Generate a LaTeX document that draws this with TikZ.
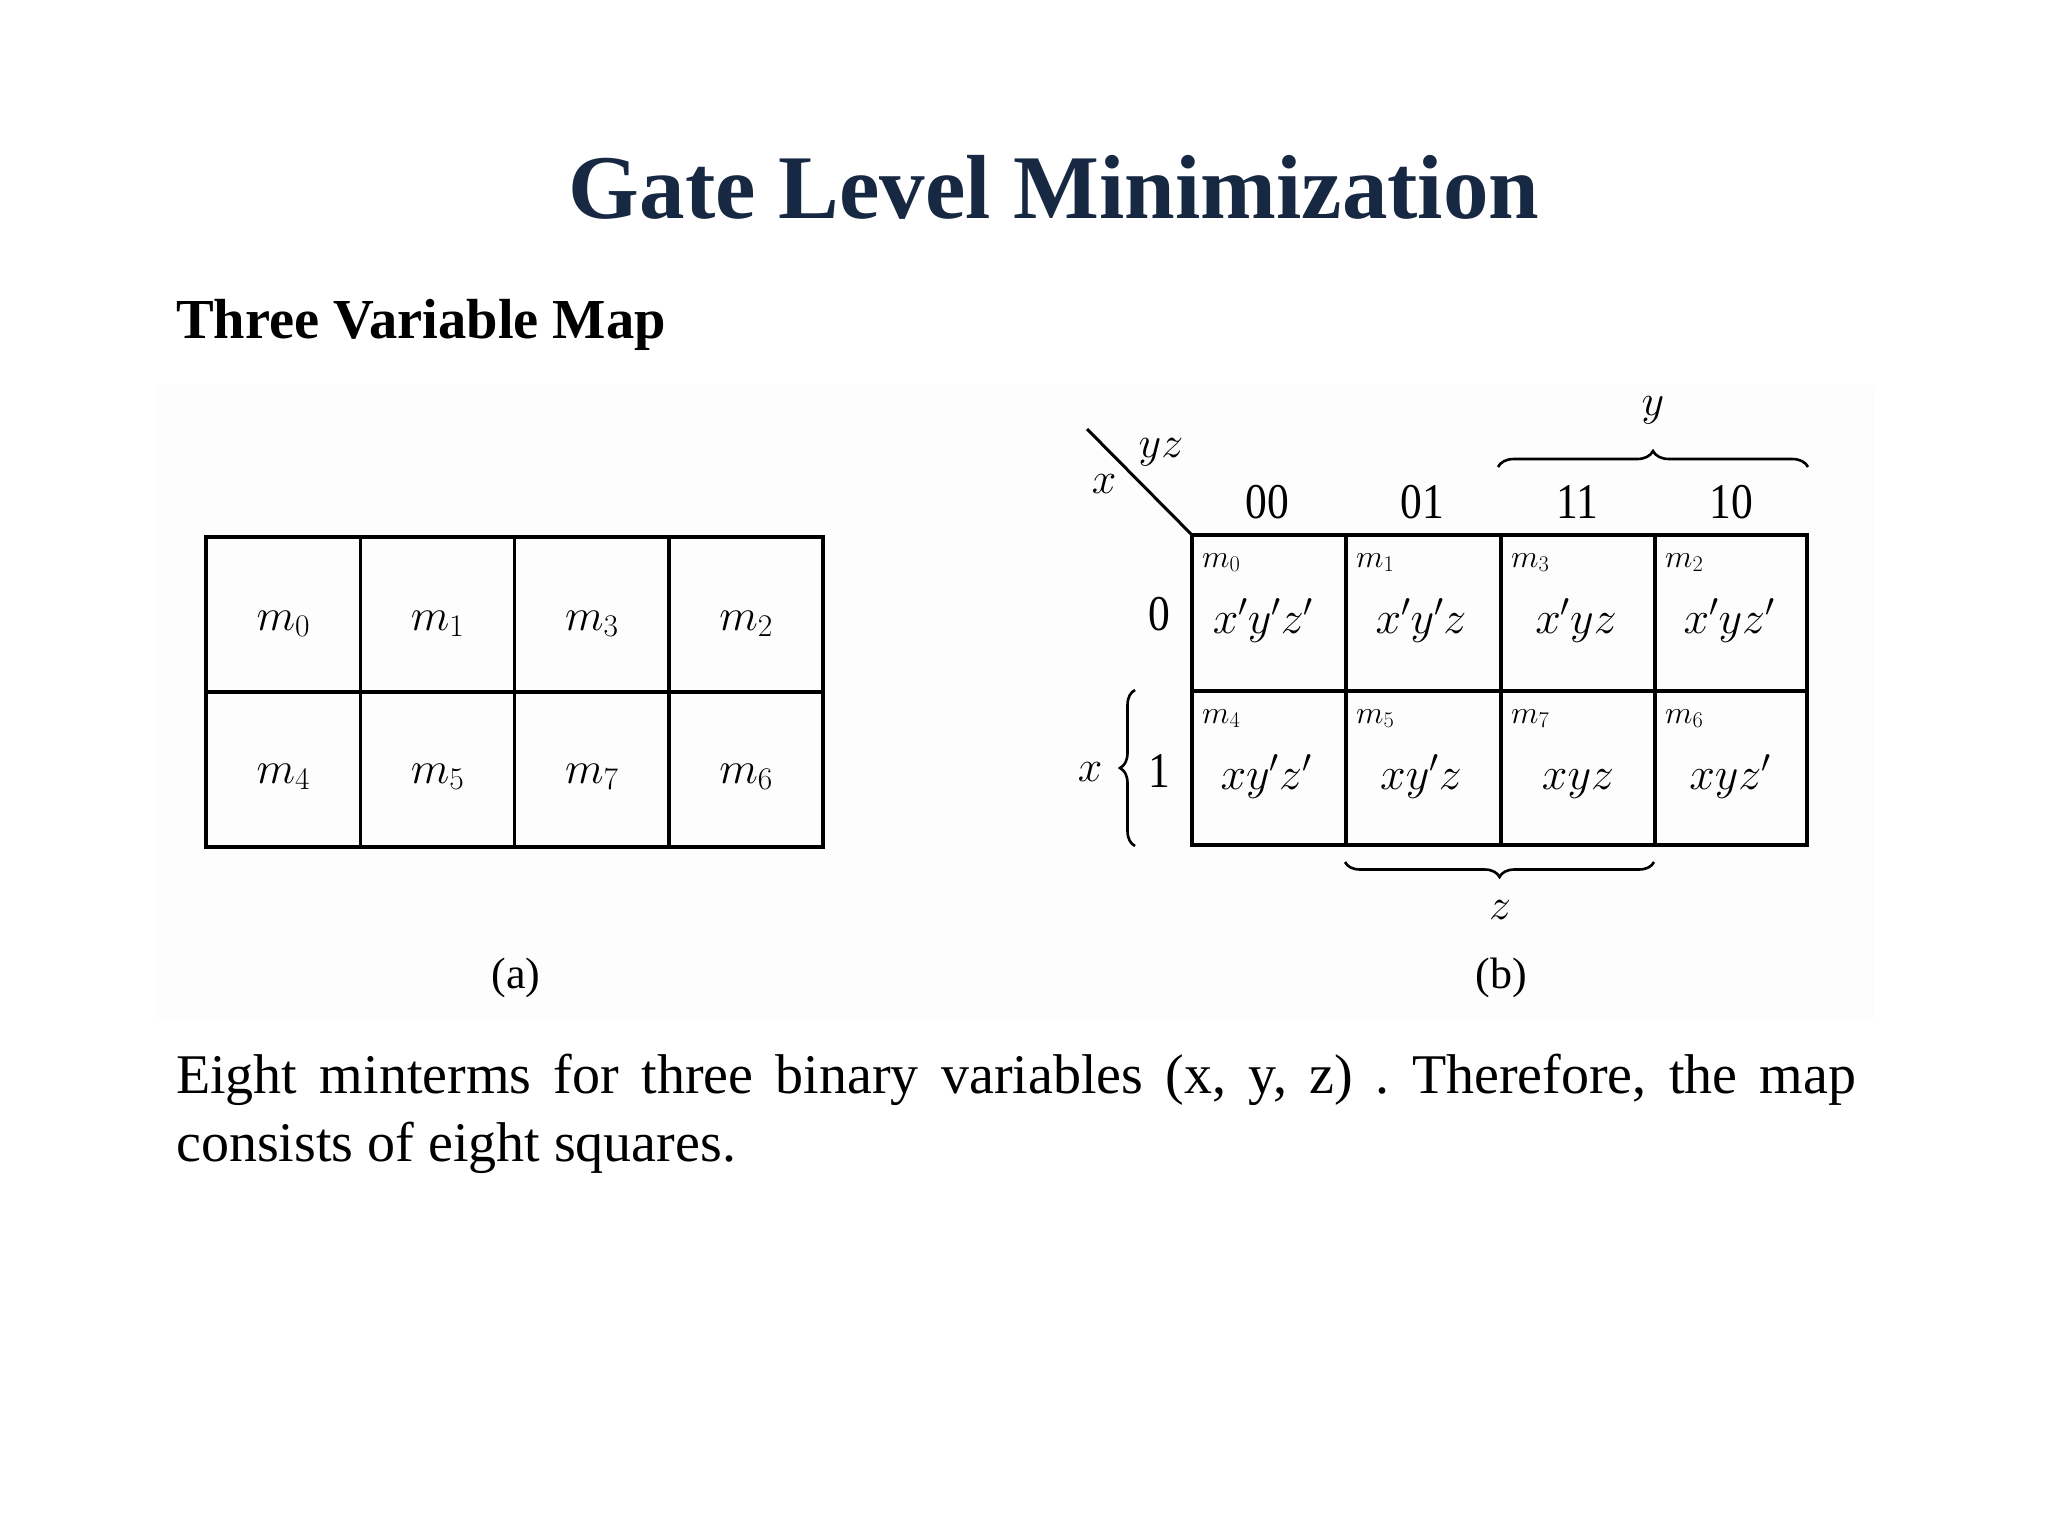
\RequirePackage{fix-cm}
\documentclass[tikz,border=0pt]{standalone}
\usepackage{fontspec}
\setmainfont{Liberation Serif}
\usetikzlibrary{decorations.pathreplacing}
\newcommand\fsz[1]{\fontsize{#1}{#1}\selectfont}
\definecolor{titlenavy}{RGB}{23,40,66}
\frenchspacing
\tikzset{
  gridline/.style={line width=3.2pt, line cap=rect},
  gridlineb/.style={line width=3.8pt, line cap=rect},
  biglabel/.style={inner sep=0pt, anchor=base, font=\fsz{45}},
  smalllabel/.style={inner sep=0pt, anchor=base west, font=\fsz{32}},
  cellterm/.style={inner sep=0pt, anchor=base, font=\fsz{46}},
  digit/.style={inner sep=0pt, anchor=base, font=\fsz{50}, xscale=0.87},
  varlabel/.style={inner sep=0pt, font=\fsz{44}},
  bracestyle/.style={line width=2.6pt, decorate, decoration={brace, amplitude=#1}},
  caption/.style={inner sep=0pt, font=\fsz{44}},
}
\begin{document}
\begin{tikzpicture}[x=1pt, y=-1pt]
\useasboundingbox (0,0) rectangle (2048,1536);
\fill[white] (0,0) rectangle (2048,1536);
\fill[black!0.8] (157,385) rectangle (1874,1019);

% Title and heading
\node[inner sep=0pt, anchor=base, text=titlenavy, font=\fsz{91}\bfseries] (title) at (1054,218) {Gate Level Minimization};
\node[inner sep=0pt, anchor=base west, font=\fsz{56.5}\bfseries] (heading) at (176,338) {Three Variable Map};

% Map (a)
\draw[gridline] (206,537) rectangle (823,847);
\draw[gridline] (206,692) -- (823,692);
\foreach \xx in {360.5,514.75,669} {\draw[gridline] (\xx,537) -- (\xx,847);}
\node[biglabel] (a0) at (283.25,630) {$m_0$};
\node[biglabel] (a1) at (437.6,630) {$m_1$};
\node[biglabel] (a3) at (591.9,630) {$m_3$};
\node[biglabel] (a2) at (746,630) {$m_2$};
\node[biglabel] (a4) at (283.25,783) {$m_4$};
\node[biglabel] (a5) at (437.6,783) {$m_5$};
\node[biglabel] (a7) at (591.9,783) {$m_7$};
\node[biglabel] (a6) at (746,783) {$m_6$};
\node[caption] (capa) at (516,978) {(a)};

% Map (b)
\draw[gridlineb] (1192,535) rectangle (1807,845);
\draw[gridlineb] (1192,691) -- (1807,691);
\foreach \xx in {1346,1501,1655} {\draw[gridlineb] (\xx,535) -- (\xx,845);}
\coordinate (corner) at (1192,535);
\coordinate (diagend) at (1087,429);
\draw[line width=3pt] (diagend) -- (corner);
\node[varlabel] (xlab) at (1104,484) {$x$};
\node[varlabel] (yzlab) at (1161,452) {$yz$};

\node[digit] (c00) at (1267,518) {00};
\node[digit] (c01) at (1422,518) {01};
\node[digit] (c11) at (1577,518) {11};
\node[digit] (c10) at (1731,518) {10};
\node[digit] (r0) at (1159,630) {0};
\node[digit] (r1) at (1159,787) {1};

% small minterm labels
\foreach \lx/\nm in {1192/0,1346/1,1501/3,1655/2} {
  \node[smalllabel] (sm\nm) at (\lx+10,567) {$m_{\nm}$};
}
\foreach \lx/\nm in {1192/4,1346/5,1501/7,1655/6} {
  \node[smalllabel] (sm\nm) at (\lx+10,723) {$m_{\nm}$};
}
% cell terms
\node[cellterm] (t0) at (1263,633) {$x'y'z'$};
\node[cellterm] (t1) at (1421,633) {$x'y'z$};
\node[cellterm] (t3) at (1576,633) {$x'yz$};
\node[cellterm] (t2) at (1729,633) {$x'yz'$};
\node[cellterm] (t4) at (1266,789) {$xy'z'$};
\node[cellterm] (t5) at (1421,789) {$xy'z$};
\node[cellterm] (t7) at (1578,789) {$xyz$};
\node[cellterm] (t6) at (1730,789) {$xyz'$};

% braces
\coordinate (ybl) at (1498,467);
\coordinate (ybr) at (1808,467);
\draw[bracestyle=16] (ybl) -- (ybr);
\node[varlabel] (ylab) at (1653,410) {$y$};
\coordinate (zbl) at (1345,862);
\coordinate (zbr) at (1654,862);
\draw[bracestyle=15] (zbr) -- (zbl);
\node[varlabel] (zlab) at (1500,910) {$z$};
\coordinate (xbb) at (1135,846);
\coordinate (xbt) at (1135,690);
\draw[bracestyle=15] (xbb) -- (xbt);
\node[varlabel] (xlab2) at (1090,772) {$x$};
\node[caption] (capb) at (1501,978) {(b)};

% body text
\node[inner sep=0pt, anchor=base west, font=\fsz{56}] (line1) at (176,1093)
  {\makebox[1680pt][s]{Eight minterms for three binary variables (x, y, z) . Therefore, the map}};
\node[inner sep=0pt, anchor=base west, font=\fsz{56}] (line2) at (176,1161)
  {consists of eight squares.};
\end{tikzpicture}
\end{document}
